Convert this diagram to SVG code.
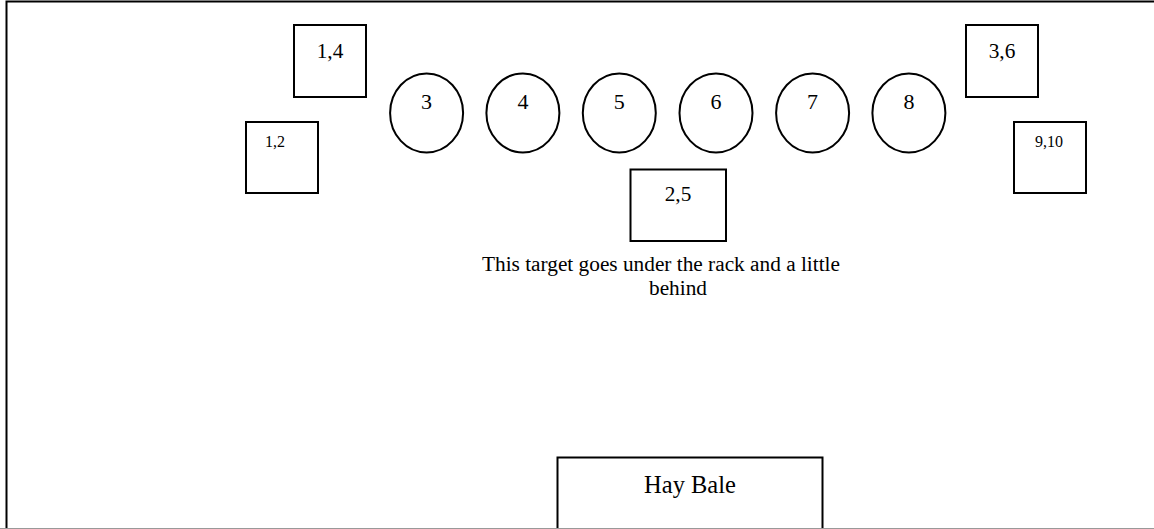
<svg xmlns="http://www.w3.org/2000/svg" width="1154" height="529" viewBox="0 0 1154 529">
<style>
.s{fill:#fff;stroke:#000;stroke-width:2}
.t{font-family:"Liberation Serif","Times New Roman",serif;fill:#000;text-anchor:middle}
</style>
<rect x="0" y="0" width="1154" height="529" fill="#fff"/>
<path d="M6.5 529V1.5H1154" fill="none" stroke="#000" stroke-width="2"/>
<g id="box-1-4"><rect class="s" x="294" y="25" width="72" height="72"/><text class="t" x="330" y="58" font-size="21.3">1,4</text></g>
<g id="box-1-2"><rect class="s" x="246" y="122" width="72" height="71"/><text class="t" x="275" y="147" font-size="16">1,2</text></g>
<g id="box-3-6"><rect class="s" x="966" y="25" width="72" height="72"/><text class="t" x="1002" y="58" font-size="21.3">3,6</text></g>
<g id="box-9-10"><rect class="s" x="1014" y="122" width="72" height="71"/><text class="t" x="1049" y="147" font-size="16">9,10</text></g>
<g id="c3"><ellipse class="s" cx="426.6" cy="112.9" rx="36.5" ry="39.5"/><text class="t" x="426.6" y="109" font-size="22">3</text></g>
<g id="c4"><ellipse class="s" cx="522.9" cy="112.9" rx="36.5" ry="39.5"/><text class="t" x="522.9" y="109" font-size="22">4</text></g>
<g id="c5"><ellipse class="s" cx="619.3" cy="112.9" rx="36.5" ry="39.5"/><text class="t" x="619.3" y="109" font-size="22">5</text></g>
<g id="c6"><ellipse class="s" cx="716" cy="112.9" rx="36.5" ry="39.5"/><text class="t" x="716" y="109" font-size="22">6</text></g>
<g id="c7"><ellipse class="s" cx="812.6" cy="112.9" rx="36.5" ry="39.5"/><text class="t" x="812.6" y="109" font-size="22">7</text></g>
<g id="c8"><ellipse class="s" cx="908.9" cy="112.9" rx="36.5" ry="39.5"/><text class="t" x="908.9" y="109" font-size="22">8</text></g>
<g id="box-2-5"><rect class="s" x="630.5" y="169.5" width="95.5" height="71.5"/><text class="t" x="678" y="201" font-size="21.3">2,5</text></g>
<g id="note"><text class="t" x="661" y="271" font-size="21.3">This target goes under the rack and a little</text><text class="t" x="678" y="295" font-size="21.3">behind</text></g>
<g id="hay-bale"><rect class="s" x="557.5" y="457.5" width="265" height="80"/><text class="t" x="690" y="493" font-size="24.5">Hay Bale</text></g>
<line x1="0" y1="528.5" x2="1154" y2="528.5" stroke="#999" stroke-width="1"/>
<g id="connectors"/>
</svg>
